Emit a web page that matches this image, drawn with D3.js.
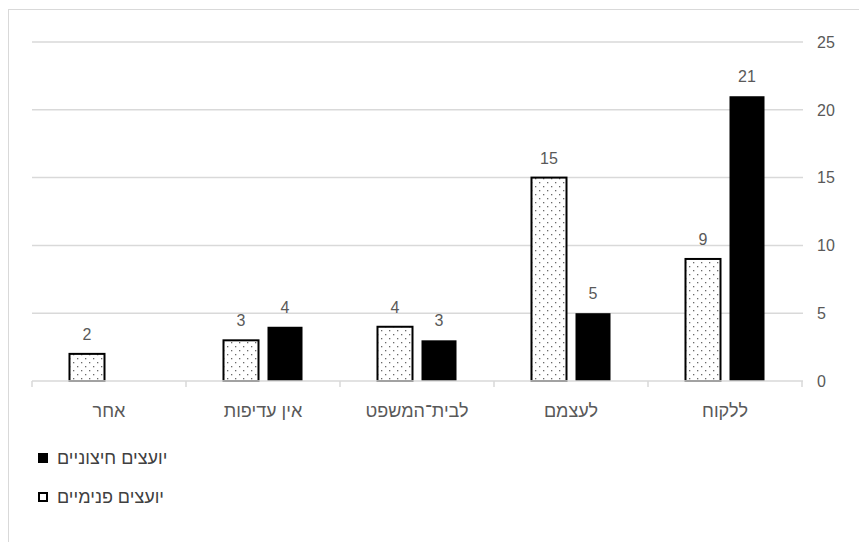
<!DOCTYPE html>
<html lang="he">
<head>
<meta charset="utf-8">
<script src="https://cdn.jsdelivr.net/npm/d3@7"></script>
<style>
  html, body { margin: 0; padding: 0; background: #fff; }
  svg { display: block; font-family: "Liberation Sans", "DejaVu Sans", Arial, sans-serif; }
</style>
</head>
<body>
<svg id="chart" width="859" height="542"></svg>
<script>
// Categories, ordered right to left along the axis
const categories = ["ללקוח", "לעצמם", "לבית־המשפט", "אין עדיפות", "אחר"];
// Series names
const seriesNames = ["יועצים פנימיים", "יועצים חיצוניים"];
// Values per category (same order as categories)
const internalValues = [9, 15, 4, 3, 2];
const externalValues = [21, 5, 3, 4, null];
// Value axis ticks
const yTicks = [0, 5, 10, 15, 20, 25];

const svg = d3.select("#chart");

// Dotted fill for the internal advisers series
const defs = svg.append("defs");
const pat = defs.append("pattern")
  .attr("id", "dots")
  .attr("patternUnits", "userSpaceOnUse")
  .attr("width", 8).attr("height", 8);
pat.append("rect").attr("width", 8).attr("height", 8).attr("fill", "#fff");
pat.append("rect").attr("x", 1).attr("y", 2).attr("width", 1.3).attr("height", 1.3).attr("fill", "#6a6a6a");
pat.append("rect").attr("x", 5).attr("y", 6).attr("width", 1.3).attr("height", 1.3).attr("fill", "#6a6a6a");

// Chart area frame
svg.append("rect")
  .attr("x", 8.5).attr("y", 9.5)
  .attr("width", 870).attr("height", 560)
  .attr("fill", "none")
  .attr("stroke", "#d9d9d9")
  .attr("stroke-width", 1);

const plotLeft = 32, plotRight = 802, plotTop = 42, plotBottom = 381;

const x0 = d3.scaleBand()
  .domain(categories)
  .range([plotRight, plotLeft]);

const x1 = d3.scaleBand()
  .domain(seriesNames)
  .range([0, x0.bandwidth()])
  .paddingInner(0.2045)
  .paddingOuter(0.852);

const y = d3.scaleLinear()
  .domain([0, 25])
  .range([plotBottom, plotTop]);

// Gridlines
svg.append("g")
  .selectAll("line")
  .data(yTicks.filter(t => t > 0))
  .join("line")
  .attr("x1", plotLeft).attr("x2", plotRight + 1)
  .attr("y1", d => y(d)).attr("y2", d => y(d))
  .attr("stroke", "#d9d9d9")
  .attr("stroke-width", 1.5);

// Value axis labels on the right
svg.append("g")
  .selectAll("text")
  .data(yTicks)
  .join("text")
  .attr("x", 817)
  .attr("y", d => y(d))
  .attr("dy", "0.36em")
  .attr("fill", "#595959")
  .attr("font-size", 16)
  .text(d => d);

// Bars
const rows = categories.map((c, i) => ({
  category: c,
  values: [
    { series: seriesNames[0], value: internalValues[i] },
    { series: seriesNames[1], value: externalValues[i] }
  ]
}));

const groups = svg.append("g")
  .selectAll("g")
  .data(rows)
  .join("g")
  .attr("transform", d => `translate(${x0(d.category)},0)`);

groups.selectAll("rect")
  .data(d => d.values.filter(v => v.value != null && v.value > 0))
  .join("rect")
  .attr("x", d => x1(d.series))
  .attr("y", d => y(d.value))
  .attr("width", x1.bandwidth())
  .attr("height", d => y(0) - y(d.value))
  .attr("fill", d => d.series === seriesNames[0] ? "url(#dots)" : "#000")
  .attr("stroke", "#000")
  .attr("stroke-width", d => d.series === seriesNames[0] ? 2 : 0);

// Value labels
groups.selectAll("text")
  .data(d => d.values.filter(v => v.value != null && v.value > 0))
  .join("text")
  .attr("x", d => x1(d.series) + x1.bandwidth() / 2)
  .attr("y", d => y(d.value) - 14)
  .attr("text-anchor", "middle")
  .attr("fill", "#595959")
  .attr("font-size", 16)
  .text(d => d.value);

// Category axis line with tick marks at band boundaries
const axis = svg.append("g");
axis.append("line")
  .attr("x1", plotLeft).attr("x2", plotRight + 1)
  .attr("y1", y(0)).attr("y2", y(0))
  .attr("stroke", "#d9d9d9")
  .attr("stroke-width", 1.5);
const boundaries = categories.map(c => x0(c)).concat([plotRight]);
axis.selectAll("line.tick")
  .data(boundaries)
  .join("line")
  .attr("class", "tick")
  .attr("x1", d => d).attr("x2", d => d)
  .attr("y1", y(0)).attr("y2", y(0) + 6)
  .attr("stroke", "#d9d9d9")
  .attr("stroke-width", 1.5);

axis.selectAll("text")
  .data(categories)
  .join("text")
  .attr("x", d => x0(d) + x0.bandwidth() / 2)
  .attr("y", 417)
  .attr("text-anchor", "middle")
  .attr("fill", "#595959")
  .attr("font-size", 18)
  .text(d => d);

// Legend
const legendItems = [
  { name: seriesNames[1], fill: "#000", stroke: "#000" },
  { name: seriesNames[0], fill: "#fff", stroke: "#000" }
];
const legend = svg.append("g")
  .selectAll("g")
  .data(legendItems)
  .join("g")
  .attr("transform", (d, i) => `translate(38,${453 + i * 39})`);
legend.append("rect")
  .attr("x", 1).attr("y", 1)
  .attr("width", 8).attr("height", 8)
  .attr("fill", d => d.fill)
  .attr("stroke", d => d.stroke)
  .attr("stroke-width", 2);
legend.append("text")
  .attr("x", 19)
  .attr("y", 5)
  .attr("dy", "0.36em")
  .attr("fill", "#404040")
  .attr("font-size", 18)
  .text(d => d.name);
</script>
</body>
</html>
